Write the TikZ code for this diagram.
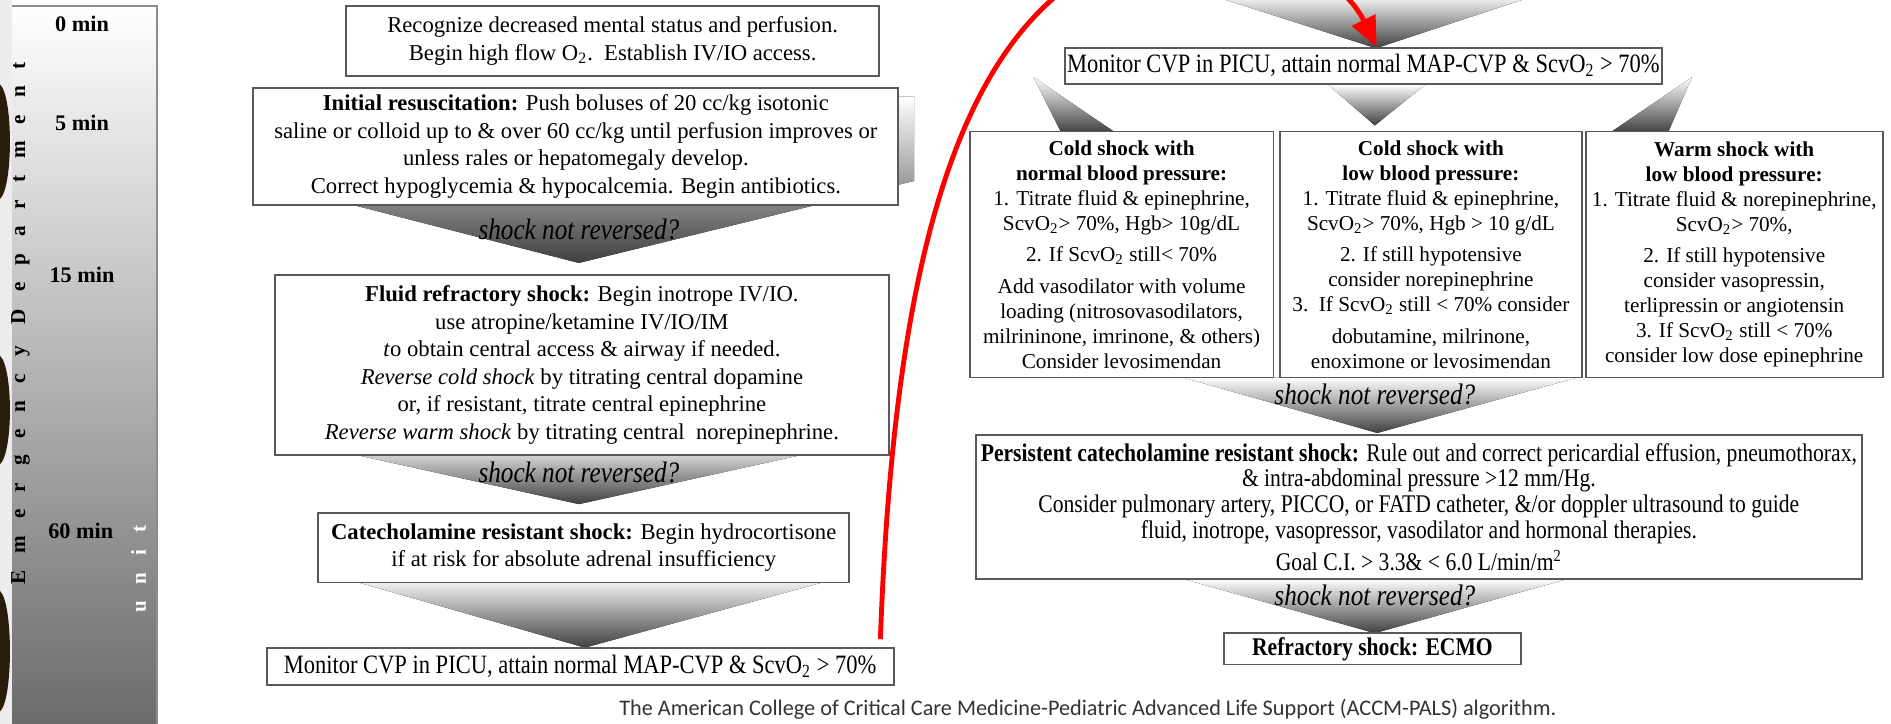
\documentclass[tikz,border=0pt]{standalone}
\usepackage{fontspec}
\setmainfont{Liberation Serif}
\newfontfamily\narrowfont[FakeStretch=0.85]{Liberation Serif}
\newfontfamily\spacedfont[LetterSpace=80]{Liberation Serif}
\newfontfamily\capfont{Carlito}
\usepackage{tikz}
\usetikzlibrary{arrows.meta,calc}
\definecolor{blob}{HTML}{2A1C0C}

\begin{document}
\begin{tikzpicture}[x=0.02cm,y=-0.02cm,
  box/.style={draw=black!65,line width=0.9pt,fill=white,align=center,inner sep=1pt},
  lbox/.style={box,font=\fontsize{10.7}{13}\selectfont},
  cbox/.style={box,font=\fontsize{10}{11.8}\selectfont,minimum height=4.08cm},
  nbox/.style={box,font=\fontsize{12.5}{13}\narrowfont},
  chev/.style={top color=white,bottom color=black!75},
  ask/.style={font=\fontsize{14}{15}\narrowfont\itshape},
  mins/.style={font=\fontsize{10.5}{12}\selectfont\bfseries}]
\clip (0,0) rectangle (1568,600);
\fill[white] (0,0) rectangle (1568,600);
\fill[black!7] (0,0) rectangle (10,600);
\fill[top color=white,bottom color=black!58] (10,5) rectangle (130,600);
\draw[black!45,line width=1pt] (10,5) -- (130,5) -- (130,600);
\fill[blob] (0,70) .. controls (11,80) and (11,155) .. (0,165) -- cycle;
\fill[blob] (0,295) .. controls (11,305) and (11,375) .. (0,385) -- cycle;
\fill[blob] (0,490) .. controls (11,500) and (11,580) .. (0,590) -- cycle;
\node[mins] (t0) at (68,20) {0 min};
\node[mins] (t5) at (68,102) {5 min};
\node[mins] (t15) at (68,228) {15 min};
\node[mins] (t60) at (67,440) {60 min};
\node[rotate=90,font=\fontsize{10}{11}\spacedfont\bfseries] (ed) at (17,268) {Emergency Department};
\node[rotate=90,white,font=\fontsize{10}{11}\spacedfont\bfseries] (un) at (115,472) {unit};

\fill[chev] (225,80) -- (758,80) -- (758,150) -- (480,218) -- (215,150) -- cycle;
\fill[chev] (240,365) -- (720,365) -- (480,418) -- cycle;
\fill[chev] (280,478) -- (700,478) -- (485,537) -- cycle;
\fill[chev] (1001,-5) -- (1277,-5) -- (1141,40) -- cycle;
\fill[chev] (1101,70) -- (1182,70) -- (1140,104) -- cycle;
\fill[chev] (857,64) -- (925,110) -- (880,110) -- cycle;
\fill[chev] (1403,64) -- (1383,110) -- (1335,110) -- cycle;
\fill[chev] (981,313) -- (1308,313) -- (1142,359) -- cycle;
\fill[chev] (981,480) -- (1300,480) -- (1140,525) -- cycle;

\node[lbox,minimum width=8.84cm,minimum height=1.16cm] (rec) at (508,34)
  {Recognize decreased mental status and perfusion.\\ Begin high flow O\textsubscript{2}.\ \ Establish IV/IO access.};
\node[lbox,minimum width=10.7cm,minimum height=1.94cm] (init) at (477.5,121.5)
  {\textbf{Initial resuscitation:} Push boluses of 20 cc/kg isotonic\\
   saline or colloid up to \& over 60 cc/kg until perfusion improves or\\
   unless rales or hepatomegaly develop.\\
   Correct hypoglycemia \& hypocalcemia. Begin antibiotics.};
\node[ask] (ask1) at (480,190) {shock not reversed?};
\node[lbox,minimum width=10.18cm,minimum height=2.98cm] (fluid) at (482.5,302.5)
  {\textbf{Fluid refractory shock:} Begin inotrope IV/IO.\\
   use atropine/ketamine IV/IO/IM\\
   \textit{t}o obtain central access \& airway if needed.\\
   \textit{Reverse cold shock} by titrating central dopamine\\
   or, if resistant, titrate central epinephrine\\
   \textit{Reverse warm shock} by titrating central\ \ norepinephrine.};
\node[ask] (ask2) at (480,392) {shock not reversed?};
\node[lbox,minimum width=8.8cm,minimum height=1.16cm] (cat) at (484,454)
  {\textbf{Catecholamine resistant shock:} Begin hydrocortisone\\
   if at risk for absolute adrenal insufficiency};
\node[nbox,minimum width=10.4cm,minimum height=0.62cm] (monL) at (481,552.5)
  {Monitor CVP in PICU, attain normal MAP-CVP \& ScvO\textsubscript{2} > 70\%};

\node[nbox,minimum width=9.9cm,minimum height=0.6cm] (monR) at (1130.5,54.5)
  {Monitor CVP in PICU, attain normal MAP-CVP \& ScvO\textsubscript{2} > 70\%};
\node[cbox,minimum width=5.04cm] (coldN) at (930,211)
  {\textbf{Cold shock with}\\ \textbf{normal blood pressure:}\\
   1. Titrate fluid \& epinephrine,\\ ScvO\textsubscript{2}> 70\%, Hgb> 10g/dL\\[3pt]
   2. If ScvO\textsubscript{2} still< 70\%\\[3pt]
   Add vasodilator with volume\\ loading (nitrosovasodilators,\\
   milrininone, imrinone, \& others)\\ Consider levosimendan};
\node[cbox,minimum width=5.02cm] (coldL) at (1186.5,211)
  {\textbf{Cold shock with}\\ \textbf{low blood pressure:}\\
   1. Titrate fluid \& epinephrine,\\ ScvO\textsubscript{2}> 70\%, Hgb > 10 g/dL\\[3pt]
   2. If still hypotensive\\ consider norepinephrine\\
   \makebox[4.8cm]{3.\ \ If ScvO\textsubscript{2} still < 70\% consider}\\[3pt]
   dobutamine, milrinone,\\ enoximone or levosimendan};
\node[cbox,minimum width=4.92cm] (warm) at (1438,211)
  {\textbf{Warm shock with}\\ \textbf{low blood pressure:}\\
   \makebox[4.8cm]{1. Titrate fluid \& norepinephrine,}\\ ScvO\textsubscript{2}> 70\%,\\[3pt]
   2. If still hypotensive\\ consider vasopressin,\\ terlipressin or angiotensin\\
   3. If ScvO\textsubscript{2} still < 70\%\\ consider low dose epinephrine};
\node[ask] (ask3) at (1140,327) {shock not reversed?};
\node[box,font=\fontsize{12}{12.2}\narrowfont,minimum width=14.7cm,minimum height=2.38cm] (persist) at (1176.5,420.5)
  {\textbf{Persistent catecholamine resistant shock:} Rule out and correct pericardial effusion, pneumothorax,\\
   \& intra-abdominal pressure >12 mm/Hg.\\
   Consider pulmonary artery, PICCO, or FATD catheter, \&/or doppler ultrasound to guide\\
   fluid, inotrope, vasopressor, vasodilator and hormonal therapies.\\[2pt]
   Goal C.I. > 3.3\& < 6.0 L/min/m\textsuperscript{2}};
\node[ask] (ask4) at (1140,494) {shock not reversed?};
\node[box,font=\fontsize{12}{12.5}\narrowfont\bfseries,minimum width=4.92cm,minimum height=0.52cm] (ecmo) at (1138,538)
  {Refractory shock: ECMO};

\node[font=\fontsize{10.5}{11}\capfont,text=black!80] (cap) at (902,588)
  {The American College of Critical Care Medicine-Pediatric Advanced Life Support (ACCM-PALS) algorithm.};

\coordinate (redA) at (730,530);
\draw[red,line width=2.3pt,-{Triangle[length=14pt,width=12pt]}] (redA)
  .. controls (742,200) and (800,-10) .. (960,-45)
  .. controls (1060,-55) and (1115,-15) .. ($(monR.north)+(11,0)$);
\end{tikzpicture}
\end{document}
